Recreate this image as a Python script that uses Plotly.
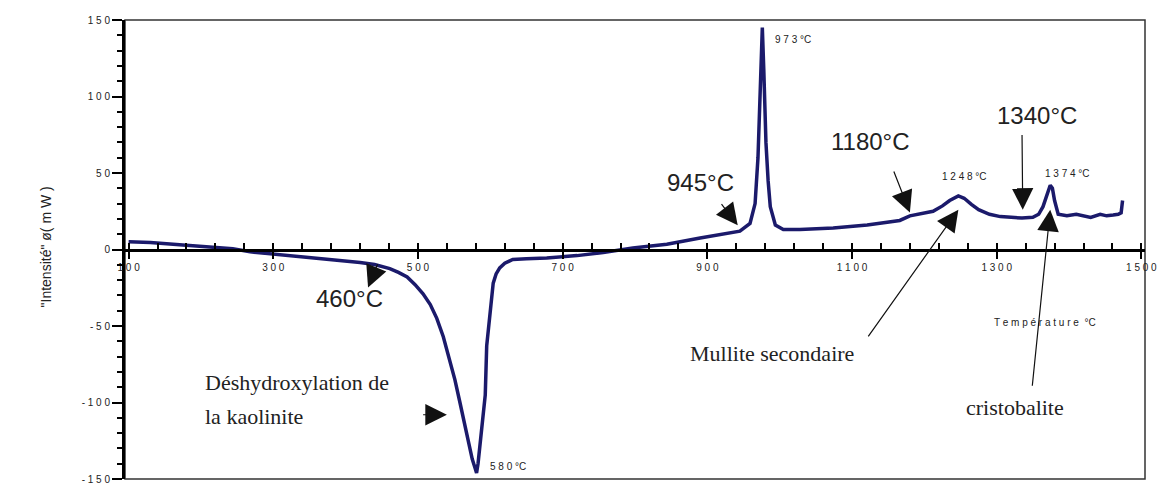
import plotly.graph_objects as go

# --- data (DSC curve) ---
temperature = [100, 130, 175, 244, 268, 337, 383, 400, 420, 440, 450, 461, 473, 485, 496, 507, 517,
               526, 535, 544, 551, 558, 564, 569, 575, 579, 581, 583, 586, 590, 593, 595, 600, 604,
               608, 613, 620, 631, 650, 678, 720, 756, 797, 844, 890, 945, 959, 966, 970,
               974, 976, 978, 981, 984, 987, 994, 1005, 1028, 1074, 1121, 1166, 1180, 1195, 1212,
               1225, 1235, 1247, 1255, 1265, 1275, 1290, 1305, 1320, 1335, 1350, 1358, 1364, 1370,
               1374, 1377, 1380, 1385, 1397, 1410, 1419, 1430, 1443, 1452, 1461, 1468, 1472, 1474]
intensity = [5, 4.5, 3, 0.5, -1.5, -4.5, -6.5, -7.5, -8.5, -9.8, -11, -12.5, -15, -18, -23, -29, -36,
             -45, -57, -72, -85, -100, -113, -126, -137, -143, -146, -140, -126, -110, -95, -63, -37, -22,
             -16, -12, -9, -6.5, -6, -5.5, -4, -2, 1, 3.5, 7.5, 12, 17, 30, 60,
             115, 145, 118, 70, 45, 28, 16, 13, 13, 14, 16, 19, 22, 23.5, 25,
             28.5, 32, 35, 33.5, 29.5, 26, 23, 21.5, 21, 20.6, 21, 23, 28, 36,
             42, 40, 32, 23, 22, 23, 22, 21, 23, 22, 22.5, 23, 24, 32]

x_ticks = [100, 300, 500, 700, 900, 1100, 1300, 1500]
x_ticktext = ["1 0 0", "3 0 0", "5 0 0", "7 0 0", "9 0 0", "1 1 0 0", "1 3 0 0", "1 5 0 0"]
y_ticks = [-150, -100, -50, 0, 50, 100, 150]
y_ticktext = ["- 1 5 0", "- 1 0 0", "- 5 0", "0", "5 0", "1 0 0", "1 5 0"]

# text labels: (text, x, y)
big_labels = [("945°C", 891, 43.5), ("460°C", 406, -32), ("1180°C", 1126, 70.6), ("1340°C", 1356, 87.4)]
serif_labels = [("Déshydroxylation de", 203, -86.8), ("la kaolinite", 203, -109.4),
                ("Mullite secondaire", 989, -68), ("cristobalite", 1325, -103.5)]
small_labels = [("9 7 3 °C", 991, 137), ("1 2 4 8 °C", 1222, 48), ("1 3 7 4 °C", 1364, 50),
                ("5 8 0 °C", 597, -141.6)]
# arrows: (tail_x, tail_y, tip_x, tip_y)
arrows = [(918, 30.6, 942, 15.8), (445, -8.7, 431, -24.8), (505, -108, 540, -108),
          (1157, 52, 1180, 24.2), (1335, 75.8, 1336, 26), (1121, -57.7, 1247, 26),
          (1349, -90, 1374, 26)]

NAVY = "#1b1a6b"

fig = go.Figure()
fig.add_trace(go.Scatter(x=temperature, y=intensity, mode="lines",
                         line=dict(color=NAVY, width=3.5), showlegend=False, hoverinfo="skip"))

ann = []
for t, x, y in big_labels:
    ann.append(dict(text=t, x=x, y=y, xref="x", yref="y", showarrow=False,
                    font=dict(family="Liberation Sans Narrow, Liberation Sans, Arial", size=24, color="#222")))
for i, (t, x, y) in enumerate(serif_labels):
    left = i < 2
    ann.append(dict(text=t, x=x, y=y, xref="x", yref="y", showarrow=False,
                    xanchor="left" if left else "center",
                    font=dict(family="Liberation Serif, Times New Roman, serif", size=22, color="#222")))
for t, x, y in small_labels:
    ann.append(dict(text=t, x=x, y=y, xref="x", yref="y", showarrow=False, xanchor="left",
                    font=dict(family="Liberation Sans, Arial", size=10, color="#222")))
for tx, ty, hx, hy in arrows:
    ann.append(dict(text="", x=hx, y=hy, ax=tx, ay=ty, xref="x", yref="y", axref="x", ayref="y",
                    showarrow=True, arrowhead=2, arrowsize=3.6, arrowwidth=1.2, arrowcolor="#111"))
ann.append(dict(text="T e m p é r a t u r e  °C", x=1367, y=-48, xref="x", yref="y", showarrow=False,
                font=dict(family="Liberation Sans, Arial", size=10, color="#222")))
ann.append(dict(text="\"Intensité\" ø( m W )", x=-0.087, y=0.505, xref="paper", yref="paper",
                textangle=-90, showarrow=False,
                font=dict(family="Liberation Sans, Arial", size=14, color="#222")))

fig.update_layout(
    width=1168, height=492,
    margin=dict(l=125, r=23, t=20, b=7),
    plot_bgcolor="white", paper_bgcolor="white",
    annotations=ann,
    shapes=[dict(type="rect", xref="paper", yref="paper", x0=0, y0=0, x1=1, y1=1,
                 line=dict(color="#333", width=1.5), layer="below")],
    xaxis=dict(range=[95, 1505], anchor="free", position=0.5, showgrid=False, zeroline=False,
               showline=True, linecolor="black", linewidth=3,
               tickvals=x_ticks, ticktext=x_ticktext, ticks="outside", ticklen=7, tickwidth=2,
               tickcolor="black",
               minor=dict(dtick=40, tick0=100, ticks="inside", ticklen=6, tickwidth=1.5, tickcolor="black"),
               tickfont=dict(family="Liberation Sans, Arial", size=10, color="#222")),
    yaxis=dict(range=[-150, 150], showgrid=False, zeroline=False, showline=True, linecolor="black",
               linewidth=3, tickvals=y_ticks, ticktext=y_ticktext, ticks="outside", ticklen=10,
               tickwidth=2, tickcolor="black",
               minor=dict(dtick=10, ticks="outside", ticklen=5, tickwidth=1.5, tickcolor="black"),
               tickfont=dict(family="Liberation Sans, Arial", size=10, color="#222")),
)

fig.write_html("out.html")
